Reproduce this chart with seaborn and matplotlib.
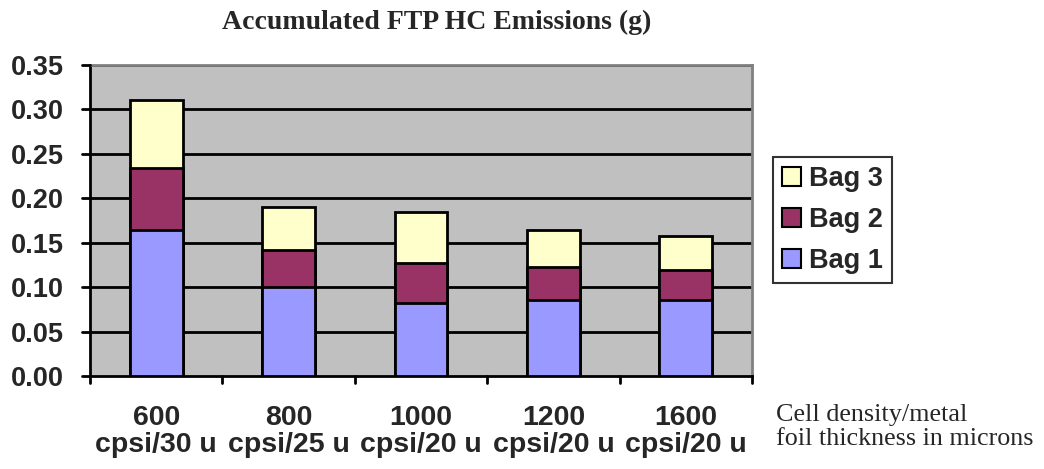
import matplotlib
matplotlib.use("Agg")
import matplotlib.pyplot as plt
import seaborn as sns
import numpy as np
import pandas as pd
from matplotlib.patches import Patch

categories = ["600\ncpsi/30 u", "800\ncpsi/25 u", "1000\ncpsi/20 u", "1200\ncpsi/20 u", "1600\ncpsi/20 u"]
bag1 = [0.164, 0.100, 0.082, 0.085, 0.086]
bag2 = [0.070, 0.042, 0.045, 0.038, 0.033]
bag3 = [0.077, 0.048, 0.058, 0.041, 0.038]
series_names = ["Bag 1", "Bag 2", "Bag 3"]
colors = {"Bag 1": "#9999FF", "Bag 2": "#993366", "Bag 3": "#FFFFCC"}
yticks = [0.00, 0.05, 0.10, 0.15, 0.20, 0.25, 0.30, 0.35]

sns.set_theme(style="white")
plt.rcParams["font.family"] = ["Liberation Sans", "DejaVu Sans"]

fig = plt.figure(figsize=(10.44, 4.69), dpi=100)
ax = fig.add_axes([90/1044, 1 - 376/469, 662/1044, 311/469])
ax.set_facecolor("#C0C0C0")

c1 = np.array(bag1)
c2 = c1 + np.array(bag2)
c3 = c2 + np.array(bag3)
df = pd.DataFrame({"cat": categories, "c1": c1, "c2": c2, "c3": c3})

for col, name in [("c3", "Bag 3"), ("c2", "Bag 2"), ("c1", "Bag 1")]:
    sns.barplot(data=df, x="cat", y=col, color=colors[name], saturation=1,
                width=0.4, edgecolor="black", linewidth=2, ax=ax, zorder=3)

ax.set_ylim(0, 0.35)
ax.set_xlim(-0.5, 4.5)
ax.set_yticks(yticks)
ax.set_yticklabels([f"{v:.2f}" for v in yticks], fontsize=19.5, fontweight="bold")
for v in yticks[1:]:
    ax.axhline(v, color="black", lw=2, zorder=1)
ax.set_xticks(range(len(categories)))
ax.set_xticklabels(categories, fontsize=20.5, fontweight="bold", linespacing=1.05)
ax.tick_params(axis="x", length=0, pad=21)
ax.tick_params(axis="y", length=0, pad=19)
# Excel-style ticks at category boundaries
for xb in np.arange(-0.5, 4.6, 1.0):
    ax.plot([xb, xb], [0, -0.008], color="black", lw=2, clip_on=False, zorder=5)
for v in yticks:
    ax.plot([-0.5, -0.56], [v, v], color="black", lw=2, clip_on=False, zorder=5)

ax.set_xlabel("")
ax.set_ylabel("")
for s in ["left", "bottom"]:
    ax.spines[s].set_color("black")
    ax.spines[s].set_linewidth(2)
for s in ["top", "right"]:
    ax.spines[s].set_color("#808080")
    ax.spines[s].set_linewidth(2)

fig.text(437/1044, 1 - 22/469, "Accumulated FTP HC Emissions (g)", ha="center", va="center",
         fontsize=20, fontweight="bold", family="Liberation Serif")
fig.text(776/1044, 1 - 427/469, "Cell density/metal\nfoil thickness in microns", ha="left", va="center",
         fontsize=18.8, family="Liberation Serif", linespacing=1.1)

handles = [Patch(facecolor=colors[n], edgecolor="black", linewidth=1.5, label=n) for n in ["Bag 3", "Bag 2", "Bag 1"]]
leg = fig.legend(handles=handles, loc="center left", bbox_to_anchor=(773/1044, 1 - 220/469),
                 borderaxespad=0,
                 frameon=True, fancybox=False, edgecolor="black", prop={"weight": "bold", "size": 19.5},
                 handlelength=0.68, handleheight=0.68, handletextpad=0.3, borderpad=0.35, labelspacing=0.55)
leg.get_frame().set_linewidth(1.5)

fig.savefig("out.png", dpi=100, facecolor="white")
